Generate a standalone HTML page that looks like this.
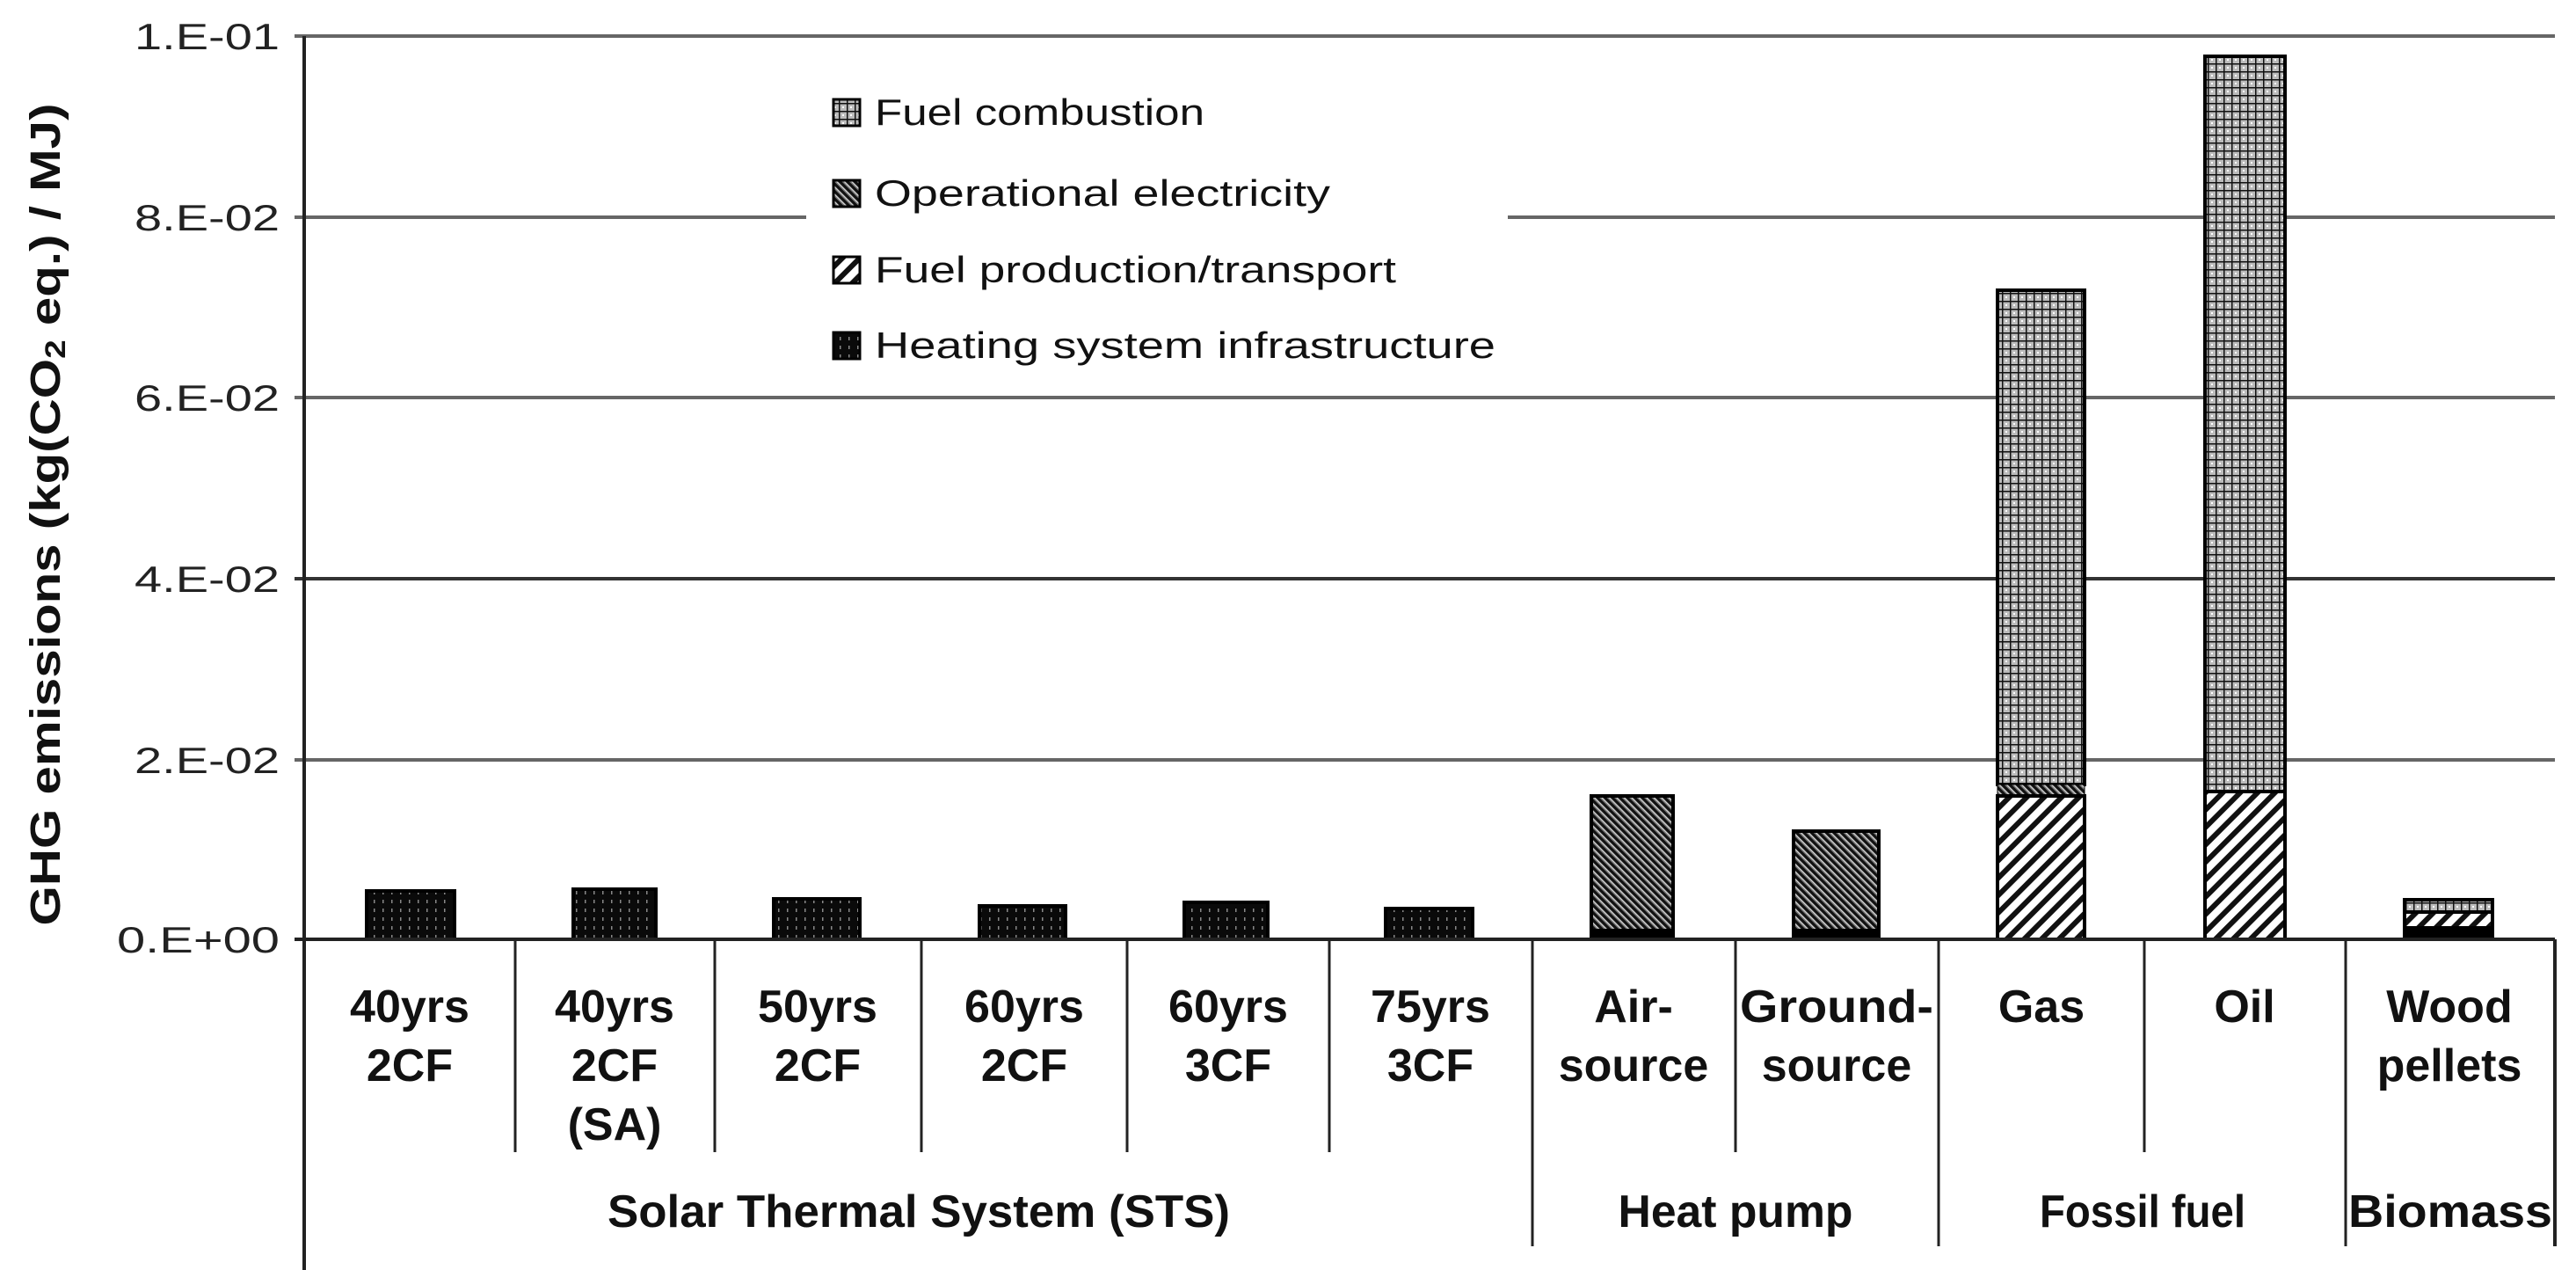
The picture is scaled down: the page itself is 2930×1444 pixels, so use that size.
<!DOCTYPE html>
<html><head><meta charset="utf-8"><style>html,body{margin:0;padding:0;background:#fff}svg{display:block}</style></head>
<body>
<svg width="2930" height="1444" viewBox="0 0 2930 1444" xmlns="http://www.w3.org/2000/svg" font-family="Liberation Sans, Arial, sans-serif">
<defs>
<pattern id="grid" width="9" height="9" patternUnits="userSpaceOnUse">
<rect width="9" height="9" fill="#bbb"/><path d="M0 0.5H9M0.5 0V9" stroke="#111" stroke-width="2"/><rect x="4" y="4" width="2" height="2" fill="#fff"/>
</pattern>
<pattern id="elec" width="6" height="6" patternUnits="userSpaceOnUse" patternTransform="rotate(-45)">
<rect width="6" height="6" fill="#777"/><rect width="3" height="6" fill="#111"/><rect x="4.5" width="1" height="6" fill="#ddd"/>
</pattern>
<pattern id="prod" width="14" height="14" patternUnits="userSpaceOnUse" patternTransform="rotate(45)">
<rect width="14" height="14" fill="#fff"/><rect width="6" height="14" fill="#111"/>
</pattern>
<pattern id="infra" width="10" height="10" patternUnits="userSpaceOnUse">
<rect width="10" height="10" fill="#0a0a0a"/><rect x="5" y="3" width="1.5" height="4" fill="#888"/>
</pattern>
</defs>
<g stroke="#666" stroke-width="4">
<line x1="335" y1="41" x2="2906" y2="41"/>
<line x1="335" y1="247" x2="917" y2="247"/>
<line x1="1715" y1="247" x2="2906" y2="247"/>
<line x1="335" y1="452" x2="2906" y2="452"/>
<line x1="335" y1="658" x2="2906" y2="658" stroke="#333"/>
<line x1="335" y1="864" x2="2906" y2="864"/>
</g>
<g stroke="#000" stroke-width="4">
<rect x="417" y="1013" width="100" height="55" fill="url(#infra)"/>
<rect x="652" y="1011" width="94" height="57" fill="url(#infra)"/>
<rect x="880" y="1022" width="98" height="46" fill="url(#infra)"/>
<rect x="1114" y="1030" width="98" height="38" fill="url(#infra)"/>
<rect x="1347" y="1026" width="95" height="42" fill="url(#infra)"/>
<rect x="1576" y="1033" width="99" height="35" fill="url(#infra)"/>
<rect x="1810" y="905" width="93" height="163" fill="url(#elec)"/>
<rect x="1810" y="1058" width="93" height="10" fill="#000"/>
<rect x="2040" y="945" width="97" height="123" fill="url(#elec)"/>
<rect x="2040" y="1058" width="97" height="10" fill="#000"/>
<rect x="2272" y="330" width="99" height="562" fill="url(#grid)"/>
<rect x="2272" y="892" width="99" height="13" fill="url(#elec)" stroke-width="1"/>
<rect x="2272" y="905" width="99" height="163" fill="url(#prod)"/>
<rect x="2508" y="64" width="91" height="836" fill="url(#grid)"/>
<rect x="2508" y="900" width="91" height="168" fill="url(#prod)"/>
<rect x="2735" y="1023" width="100" height="14" fill="url(#grid)"/>
<rect x="2735" y="1037" width="100" height="18" fill="url(#prod)"/>
<rect x="2735" y="1055" width="100" height="13" fill="#000"/>
</g>
<g stroke="#222" stroke-width="4">
<line x1="346" y1="41" x2="346" y2="1444"/>
<line x1="335" y1="1068" x2="2906" y2="1068"/>
<line x1="2906" y1="1068" x2="2906" y2="1417"/>
</g>
<g stroke="#222" stroke-width="3">
<line x1="586" y1="1068" x2="586" y2="1310"/>
<line x1="813" y1="1068" x2="813" y2="1310"/>
<line x1="1048" y1="1068" x2="1048" y2="1310"/>
<line x1="1282" y1="1068" x2="1282" y2="1310"/>
<line x1="1512" y1="1068" x2="1512" y2="1310"/>
<line x1="1743" y1="1068" x2="1743" y2="1417"/>
<line x1="1974" y1="1068" x2="1974" y2="1310"/>
<line x1="2205" y1="1068" x2="2205" y2="1417"/>
<line x1="2439" y1="1068" x2="2439" y2="1310"/>
<line x1="2668" y1="1068" x2="2668" y2="1417"/>
</g>
<g font-size="42" text-anchor="end" fill="#222">
<text x="318" y="56" textLength="165" lengthAdjust="spacingAndGlyphs">1.E-01</text>
<text x="318" y="262" textLength="165" lengthAdjust="spacingAndGlyphs">8.E-02</text>
<text x="318" y="467" textLength="165" lengthAdjust="spacingAndGlyphs">6.E-02</text>
<text x="318" y="673" textLength="165" lengthAdjust="spacingAndGlyphs">4.E-02</text>
<text x="318" y="879" textLength="165" lengthAdjust="spacingAndGlyphs">2.E-02</text>
<text x="318" y="1083" textLength="185" lengthAdjust="spacingAndGlyphs">0.E+00</text>
</g>
<text transform="translate(68,585) rotate(-90)" font-size="48" font-weight="bold" text-anchor="middle" textLength="935" lengthAdjust="spacingAndGlyphs" fill="#111">GHG emissions (kg(CO<tspan font-size="32" dy="6">2</tspan><tspan dy="-6"> eq.) / MJ)</tspan></text>
<g font-size="42" fill="#111">
<rect x="948" y="113" width="30" height="30" fill="url(#grid)" stroke="#000" stroke-width="3"/>
<text x="995" y="142" textLength="375" lengthAdjust="spacingAndGlyphs">Fuel combustion</text>
<rect x="948" y="205" width="30" height="30" fill="url(#elec)" stroke="#000" stroke-width="3"/>
<text x="995" y="234" textLength="518" lengthAdjust="spacingAndGlyphs">Operational electricity</text>
<rect x="948" y="292" width="30" height="30" fill="url(#prod)" stroke="#000" stroke-width="3"/>
<text x="995" y="321" textLength="593" lengthAdjust="spacingAndGlyphs">Fuel production/transport</text>
<rect x="948" y="378" width="30" height="30" fill="url(#infra)" stroke="#000" stroke-width="3"/>
<text x="995" y="407" textLength="706" lengthAdjust="spacingAndGlyphs">Heating system infrastructure</text>
</g>
<g font-size="52" font-weight="bold" text-anchor="middle" fill="#111">
<text x="466" y="1162">40yrs</text><text x="466" y="1229">2CF</text>
<text x="699" y="1162">40yrs</text><text x="699" y="1229">2CF</text><text x="699" y="1296">(SA)</text>
<text x="930" y="1162">50yrs</text><text x="930" y="1229">2CF</text>
<text x="1165" y="1162">60yrs</text><text x="1165" y="1229">2CF</text>
<text x="1397" y="1162">60yrs</text><text x="1397" y="1229">3CF</text>
<text x="1627" y="1162">75yrs</text><text x="1627" y="1229">3CF</text>
<text x="1858" y="1162">Air-</text><text x="1858" y="1229">source</text>
<text x="2089" y="1162" textLength="220" lengthAdjust="spacingAndGlyphs">Ground-</text><text x="2089" y="1229">source</text>
<text x="2322" y="1162">Gas</text>
<text x="2553" y="1162">Oil</text>
<text x="2786" y="1162">Wood</text><text x="2786" y="1229">pellets</text>
<text x="1045" y="1395" textLength="708" lengthAdjust="spacingAndGlyphs">Solar Thermal System (STS)</text>
<text x="1974" y="1395" textLength="267" lengthAdjust="spacingAndGlyphs">Heat pump</text>
<text x="2437" y="1395" textLength="234" lengthAdjust="spacingAndGlyphs">Fossil fuel</text>
<text x="2787" y="1395" textLength="232" lengthAdjust="spacingAndGlyphs">Biomass</text>
</g>
</svg>
</body></html>
